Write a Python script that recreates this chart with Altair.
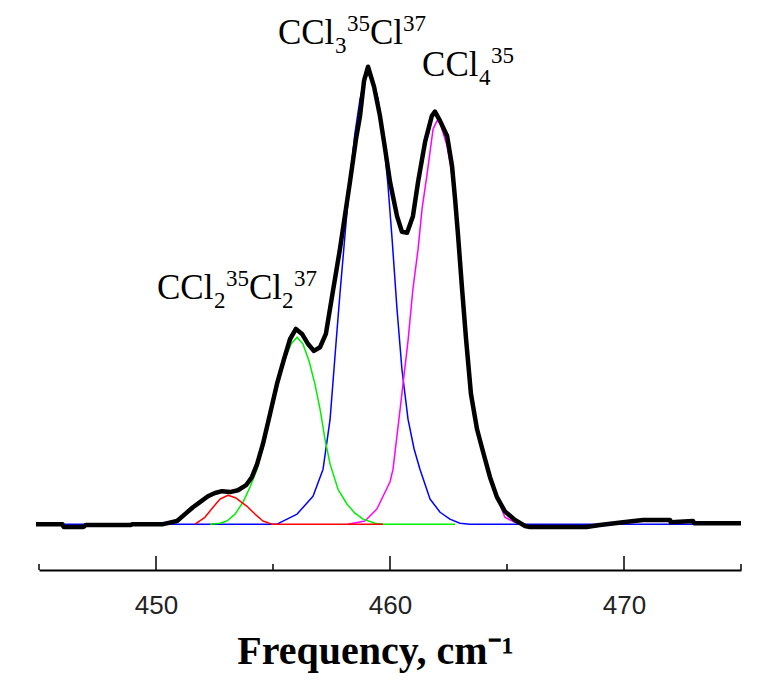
import altair as alt
import pandas as pd

# ---- data (frequency in cm^-1, relative intensity) ----
black_f = [444.87, 446.0, 446.05, 446.9, 447.0, 448.9, 449.0, 450.3, 450.9, 451.24, 451.58, 451.88,
           452.22, 452.52, 452.82, 453.16, 453.50, 453.85, 454.10, 454.32, 454.57, 454.87, 455.17,
           455.47, 455.73, 455.98, 456.24, 456.50, 456.75, 457.01, 457.26, 457.52, 457.86, 458.29,
           458.55, 458.72, 458.89, 459.06, 459.32, 459.57, 459.79, 460.00, 460.30, 460.51, 460.73,
           460.98, 461.20, 461.50, 461.79, 461.92, 462.14, 462.44, 462.65, 462.78, 462.91, 463.08,
           463.25, 463.46, 463.72, 463.97, 464.27, 464.57, 464.91, 465.34, 465.77, 465.98, 468.4,
           468.97, 469.96, 470.81, 471.97, 472.0, 472.95, 473.0, 475.0]
black_v = [0.0, 0.0, -0.006, -0.006, -0.002, -0.002, 0.0, 0.0, 0.007, 0.022, 0.037, 0.048,
           0.061, 0.068, 0.072, 0.070, 0.074, 0.085, 0.103, 0.131, 0.175, 0.240, 0.306,
           0.360, 0.404, 0.426, 0.415, 0.393, 0.378, 0.386, 0.415, 0.496, 0.600, 0.747,
           0.841, 0.891, 0.967, 0.998, 0.954, 0.891, 0.819, 0.747, 0.672, 0.638, 0.636,
           0.672, 0.747, 0.834, 0.891, 0.900, 0.880, 0.847, 0.782, 0.710, 0.629, 0.513,
           0.404, 0.284, 0.207, 0.159, 0.103, 0.059, 0.028, 0.009, -0.004, -0.006, -0.006,
           -0.002, 0.004, 0.009, 0.009, 0.004, 0.007, 0.002, 0.002]

blue_f = [445.0, 455.17, 456.03, 456.71, 457.14, 457.44, 457.69, 457.86, 458.08, 458.29, 458.50,
          458.72, 458.89, 459.06, 459.27, 459.49, 459.70, 459.91, 460.09, 460.30, 460.51, 460.77,
          461.03, 461.28, 461.71, 462.14, 462.56, 462.99, 463.42, 475.0]
blue_v = [0.0, 0.0, 0.022, 0.061, 0.120, 0.229, 0.393, 0.502, 0.633, 0.753, 0.852,
          0.928, 0.967, 0.983, 0.967, 0.928, 0.852, 0.742, 0.622, 0.469, 0.338, 0.229,
          0.164, 0.120, 0.055, 0.026, 0.011, 0.002, 0.0, 0.0]

magenta_f = [458.21, 458.93, 459.44, 460.00, 460.13, 460.43, 460.77, 460.98, 461.20, 461.37, 461.58,
             461.84, 462.01, 462.14, 462.44, 462.65, 462.78, 462.91, 463.08, 463.25, 463.46, 463.72,
             463.97, 464.27, 464.57, 464.91, 465.34, 465.56]
magenta_v = [0.0, 0.007, 0.033, 0.092, 0.120, 0.250, 0.400, 0.513, 0.600, 0.688, 0.762,
             0.862, 0.880, 0.876, 0.825, 0.762, 0.694, 0.616, 0.507, 0.400, 0.284, 0.207,
             0.159, 0.103, 0.059, 0.015, 0.004, 0.0]

green_f = [452.31, 452.74, 453.03, 453.38, 453.72, 454.02, 454.32, 454.62, 454.91, 455.21, 455.51,
           455.77, 456.03, 456.28, 456.54, 456.79, 457.01, 457.22, 457.44, 457.78, 458.16, 458.50,
           458.85, 459.36, 459.70, 462.78]
green_v = [0.0, 0.002, 0.007, 0.022, 0.048, 0.081, 0.120, 0.175, 0.240, 0.306, 0.360,
           0.393, 0.408, 0.393, 0.356, 0.306, 0.251, 0.186, 0.131, 0.076, 0.044, 0.024,
           0.011, 0.002, 0.0, 0.0]

red_f = [451.67, 452.09, 452.44, 452.74, 453.08, 453.42, 453.89, 454.23, 454.57, 454.96, 459.70]
red_v = [0.0, 0.015, 0.037, 0.055, 0.063, 0.057, 0.039, 0.022, 0.007, 0.0, 0.0]

major_ticks = [450, 460, 470]
minor_ticks = [445, 455, 465, 475]

# peak labels: anchor (left end of the text, baseline) and the pieces of each label
label_f = [455.21, 461.37, 450.04]
label_v = [1.048, 0.978, 0.491]
# (label index, text, role, horizontal offset in px from the label anchor)
label_pieces = [
    (0, "CCl", "main", 0), (0, "3", "sub", 57), (0, "35", "sup", 69), (0, "Cl", "main", 92), (0, "37", "sup", 125),
    (1, "CCl", "main", 0), (1, "4", "sub", 57), (1, "35", "sup", 69),
    (2, "CCl", "main", 0), (2, "2", "sub", 57), (2, "35", "sup", 69), (2, "Cl", "main", 92),
    (2, "2", "sub", 125), (2, "37", "sup", 137),
]
role_style = {"main": (35, 0), "sub": (23, 9), "sup": (23, -13)}

# ---- scales / axes ----
xscale = alt.Scale(domain=[445, 475], nice=False, zero=False)
yscale = alt.Scale(domain=[-0.1, 1.1], nice=False, zero=False)
xaxis = alt.Axis(values=major_ticks, ticks=False, tickSize=0, grid=False, domain=True,
                 domainColor="black", domainWidth=2, labelFont="Liberation Sans",
                 labelFontSize=26, labelColor="#222222", labelPadding=22,
                 title="Frequency, cm\u207b\u00b9", titleFont="Liberation Serif",
                 titleFontSize=40, titleFontWeight="bold", titleColor="black",
                 titlePadding=13, titleX=336, titleAlign="center")


def curve(fs, vs, color, width):
    df = pd.DataFrame({"f": fs, "v": vs})
    return alt.Chart(df).mark_line(color=color, strokeWidth=width, interpolate="linear",
                                   strokeJoin="round", clip=False).encode(
        x=alt.X("f:Q", scale=xscale, axis=xaxis),
        y=alt.Y("v:Q", scale=yscale, axis=None),
        order="f:Q",
    )


blue = curve(blue_f, blue_v, "#0000ff", 1.5)
magenta = curve(magenta_f, magenta_v, "#ff00ff", 1.5)
green = curve(green_f, green_v, "#00ee00", 1.5)
red = curve(red_f, red_v, "#ff0000", 1.5)
black = curve(black_f, black_v, "black", 4.5)

major = alt.Chart(pd.DataFrame({"t": major_ticks})).mark_rule(color="black", strokeWidth=1.5).encode(
    x=alt.X("t:Q", scale=xscale, axis=xaxis), y=alt.value(536), y2=alt.value(550))
minor = alt.Chart(pd.DataFrame({"t": minor_ticks})).mark_rule(color="black", strokeWidth=1.5).encode(
    x=alt.X("t:Q", scale=xscale, axis=xaxis), y=alt.value(544), y2=alt.value(550))

# one text layer per (role, offset) group
groups = {}
for idx, txt, role, off in label_pieces:
    groups.setdefault((role, off), []).append({"f": label_f[idx], "v": label_v[idx], "t": txt})

text_layers = []
for (role, off), rows in groups.items():
    size, dy = role_style[role]
    text_layers.append(
        alt.Chart(pd.DataFrame(rows)).mark_text(
            font="Liberation Serif", fontSize=size, align="left", baseline="alphabetic",
            color="black", dx=off, dy=dy
        ).encode(
            x=alt.X("f:Q", scale=xscale, axis=xaxis),
            y=alt.Y("v:Q", scale=yscale, axis=None),
            text="t:N",
        )
    )

chart = alt.layer(blue, magenta, green, red, black, major, minor, *text_layers).properties(
    width=702, height=550,
    padding={"left": 39, "top": 20, "right": 34, "bottom": 113},
    autosize=alt.AutoSizeParams(type="none"),
    background="white",
).configure_view(stroke=None)

chart.save("out.html", embed_options={"renderer": "svg", "actions": False})
